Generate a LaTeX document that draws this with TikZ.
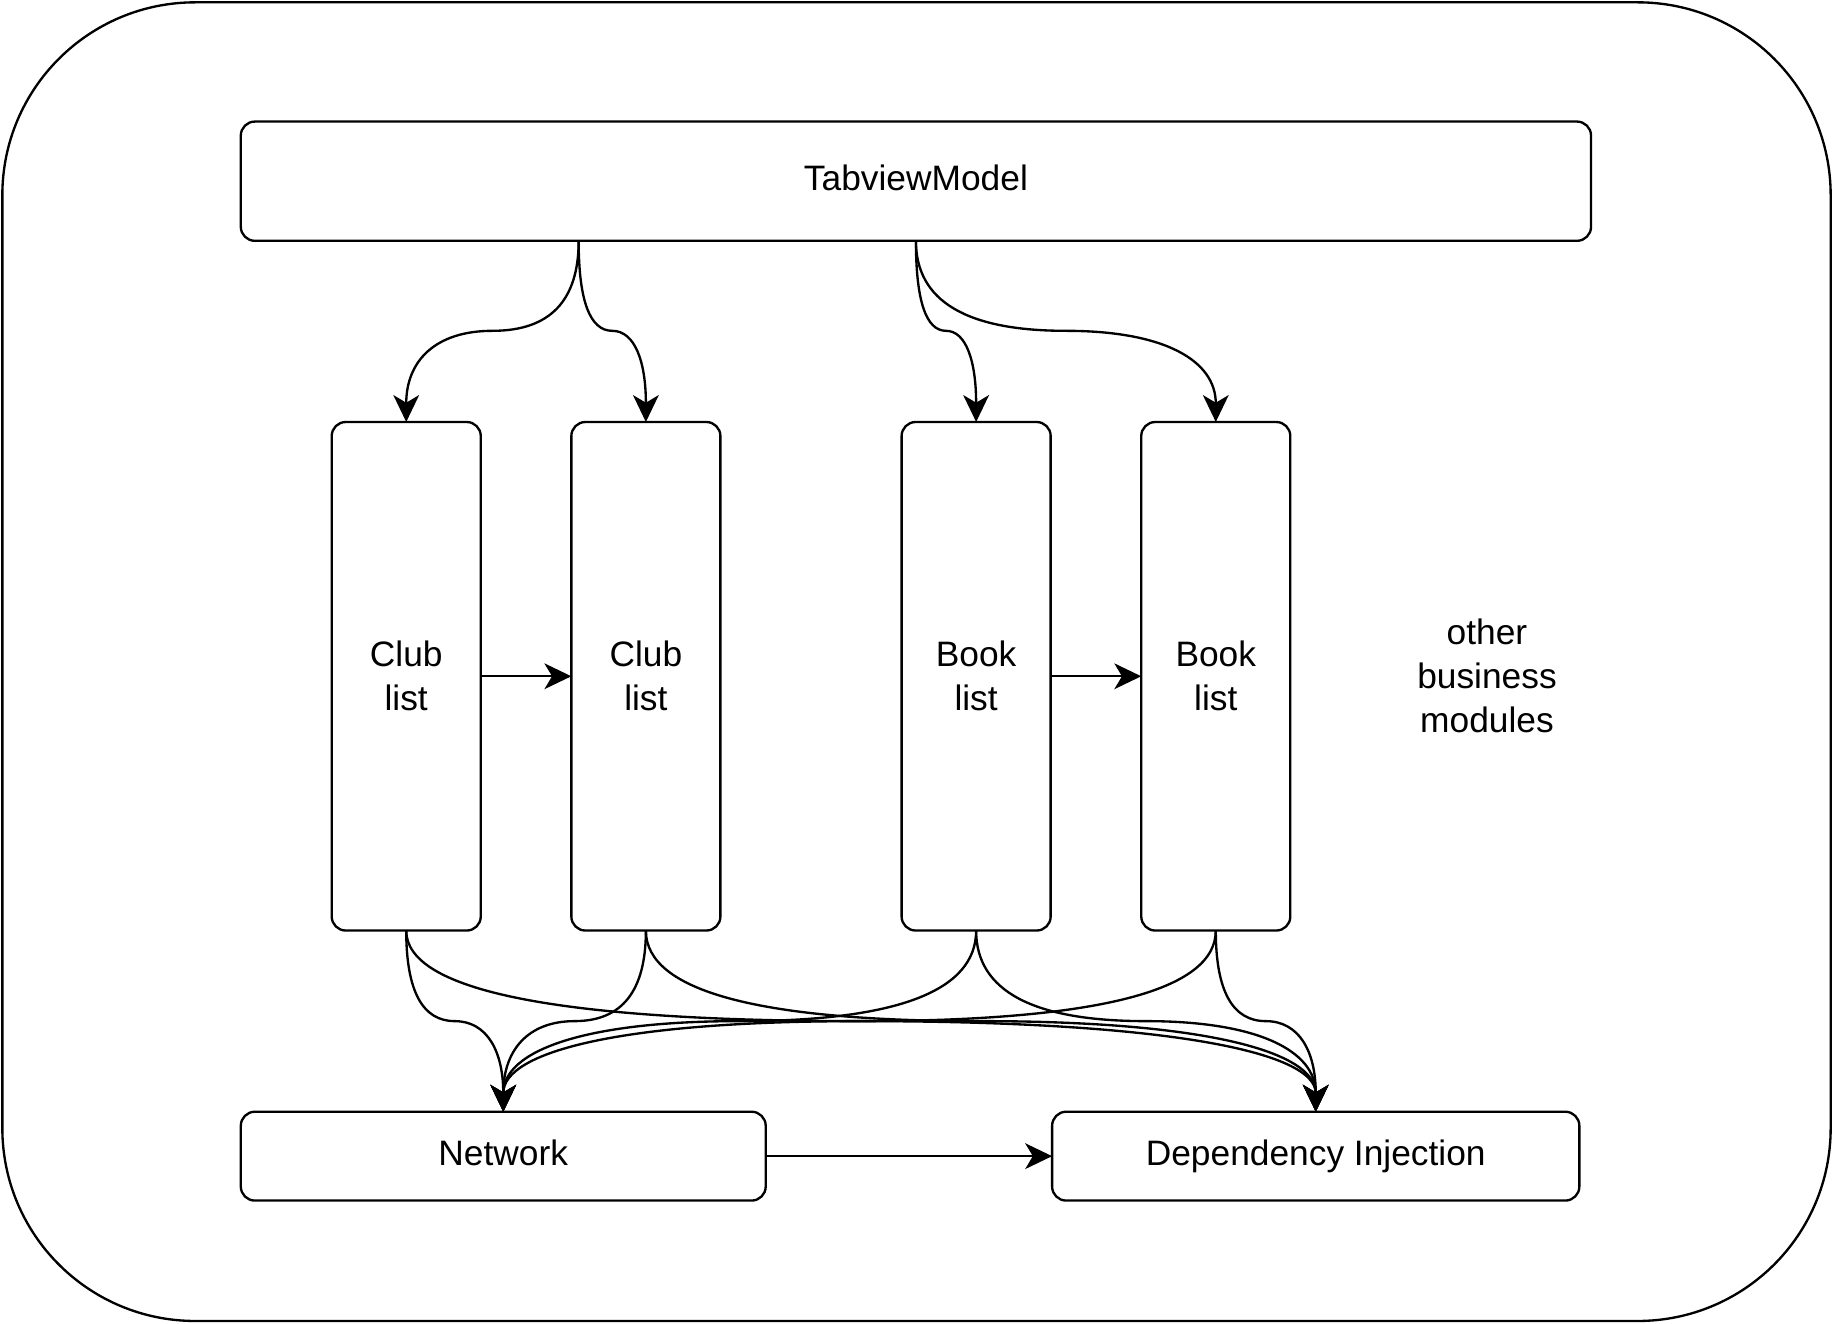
\documentclass[tikz,border=0pt]{standalone}
\usepackage{fontspec}
\setmainfont{Liberation Sans}
\usetikzlibrary{arrows.meta,calc,positioning}
\tikzstyle{module} = [rectangle,
                    rounded corners=2.4mm,
                    align = center,
                    draw=black,
                    outer sep=0pt,
                    inner sep=0pt,
                    line width=0.4mm]
\tikzstyle{lane} = [module,
                    minimum width=25.5mm,
                    minimum height=87mm]
\tikzstyle{bar} = [module,
                    minimum height=15.2mm,
                    text height=12.4pt,
                    text depth=3.6pt]
% curved orthogonal connector: from, to, level of the bend
\newcommand{\bendto}[3]{%
  \draw[->] (#1) .. controls ($(#1)!2/3!(#1 |- #3)$) and ($(#1 |- #3)!1/6!(#2 |- #3)$)
    .. ($(#1 |- #3)!1/2!(#2 |- #3)$)
    .. controls ($(#1 |- #3)!5/6!(#2 |- #3)$) and ($(#2)!2/3!(#2 |- #3)$) .. (#2);}

\begin{document}
\begin{tikzpicture}[x=0.2mm, y=-0.2mm,
                      >={Stealth[length=4.6mm, width=4.4mm, inset=1.3mm]},
                      line width=0.4mm,
                      font=\fontsize{17.2}{21.5}\selectfont]
    \useasboundingbox (0,0) rectangle (1568,1132);
    \draw[rounded corners=33mm, fill=white] (2,2) rectangle (1566,1130);
    \node (tvm) [bar, minimum width=231mm, minimum height=20.4mm] at (783.5,155) {TabviewModel};
    \node (club1) [lane] at (347.5,578.5) {Club\\list};
    \node (club2) [lane, right=15.5mm of club1] {Club\\list};
    \node (book1) [lane, right=31mm of club2] {Book\\list};
    \node (book2) [lane, right=15.5mm of book1] {Book\\list};
    \node (other) [align=center] at (1272,578) {other\\business\\modules};
    \node (net) [bar, minimum width=89.8mm] at (430.5,989) {Network};
    \node (di) [bar, minimum width=90.2mm, right=49mm of net] {Dependency Injection};
    \coordinate (tl) at (495,206);
    \coordinate (hitop) at (0,283);
    \coordinate (hibot) at (0,873.5);
    \bendto{tl}{club1.north}{hitop}
    \bendto{tl}{club2.north}{hitop}
    \bendto{tvm.south}{book1.north}{hitop}
    \bendto{tvm.south}{book2.north}{hitop}
    \foreach \m in {club1,club2,book1,book2} {
      \bendto{\m.south}{net.north}{hibot}
      \bendto{\m.south}{di.north}{hibot}
    }
    \draw[->] (club1) -- (club2);
    \draw[->] (book1) -- (book2);
    \draw[->] (net) -- (di);
\end{tikzpicture}
\end{document}
